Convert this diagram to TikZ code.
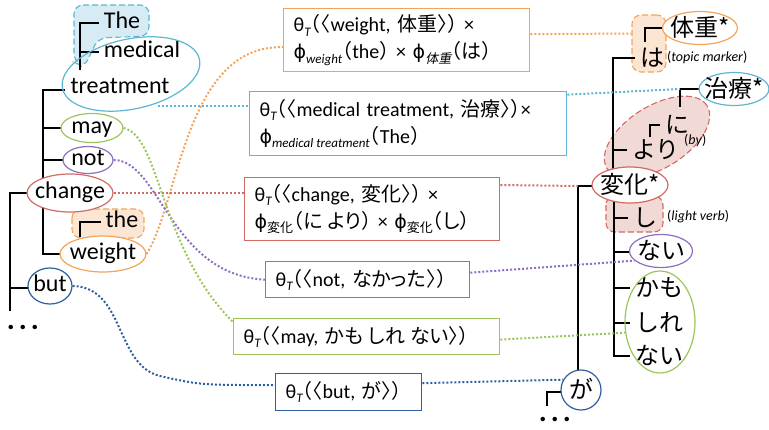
\documentclass[tikz,border=0pt]{standalone}
\usepackage{fontspec}
\setmainfont{Carlito}
\newfontfamily\jp{Noto Sans CJK JP}
\newfontfamily\jpp{Noto Sans CJK JP}[RawFeature=+palt]
\newfontfamily\jb{Noto Sans CJK JP}[RawFeature=+halt]
\newfontfamily\jpit{Noto Sans CJK JP}[FakeSlant=0.2,RawFeature=+palt]
\newfontfamily\dv{DejaVu Sans}
\usetikzlibrary{shapes.geometric}

\definecolor{corange}{HTML}{F2A55A}
\definecolor{cpeach}{HTML}{FBE5D3}
\definecolor{clblue}{HTML}{5DB6D3}
\definecolor{cpale}{HTML}{D6EBF3}
\definecolor{cred}{HTML}{D26A66}
\definecolor{cpink}{HTML}{F1DAD6}
\definecolor{cpurple}{HTML}{8E6FC0}
\definecolor{cgreen}{HTML}{9CC65B}
\definecolor{cdblue}{HTML}{2F5E9E}

\newcommand{\sbs}[1]{\raisebox{-0.45ex}{\fontsize{13}{13}\selectfont #1}}
\newcommand{\thT}{θ\sbs{\itshape T}}
\newcommand{\phis}{{\dv\fontsize{19}{27}\selectfont ϕ}}
\newcommand{\jlp}{{\jb （}}
\newcommand{\jrp}{{\jb ）}}
\newcommand{\jla}{{\jb 〈}}
\newcommand{\jra}{{\jb 〉}}

\begin{document}
\begin{tikzpicture}[x=1pt,y=-1pt,
  word/.style={font=\fontsize{24}{24}\selectfont, inner xsep=5pt, inner ysep=0pt, text height=16pt, text depth=5pt},
  jword/.style={font=\fontsize{24}{24}\selectfont\jp, inner xsep=5pt, inner ysep=0pt, text height=19pt, text depth=3pt},
  note/.style={font=\fontsize{14}{14}\selectfont, anchor=west, inner sep=0pt},
  bub/.style={ellipse, draw, line width=1.2pt, inner sep=0pt, fill=white},
  branch/.style={line width=2.6pt},
  blob/.style={draw, line width=1.1pt, dash pattern=on 6pt off 3pt, rounded corners=9pt},
  link/.style={line width=2pt, dash pattern=on 2pt off 2pt},
  box/.style={draw, line width=1.3pt, fill=white, anchor=north west, inner xsep=10pt, inner ysep=0pt, align=left, font=\fontsize{20}{27}\selectfont}]
\useasboundingbox (0,0) rectangle (769,429);

% dashed blobs
\draw[blob, clblue, fill=cpale] (74,5) -- (149,5) -- (149,36) -- (98,38) -- (84,68) -- (74,62) -- cycle;
\draw[blob, corange, fill=cpeach] (72,209) rectangle (144,238);
\node[blob, corange, fill=cpeach, rectangle, minimum width=34pt, minimum height=57pt] (ha-b) at (649,43.5) {};
\node[blob, cred, fill=cpink, ellipse, minimum width=118pt, minimum height=62pt, rotate=32] (niyori-b) at (657,137) {};
\draw[blob, cred, fill=cpink] (606,196) rectangle (663,232);

% left tree
\coordinate (L1) at (43,90);
\coordinate (L1e) at (43,182);
\coordinate (L2) at (10,193);
\coordinate (L2e) at (10,311);
\coordinate (L3) at (43,206);
\coordinate (B1) at (80,23);
\coordinate (B1e) at (80,70);
\coordinate (B2) at (80,222);
\coordinate (B2e) at (80,237);
% right tree
\coordinate (T1) at (613,58);
\coordinate (T1e) at (613,180);
\coordinate (T2) at (578,186);
\coordinate (T2e) at (578,374);
\coordinate (T3) at (614,196);
\coordinate (R1) at (645,42);
\coordinate (R2) at (650,137);
\coordinate (R3) at (680,107);
\coordinate (R4) at (547,406);

\node[word] (The) at (122,23) {The};
\node[word] (medical) at (142,52) {medical};
\node[word] (treatment) at (120,88) {treatment};
\node[word] (the) at (122,222) {the};
\node[jword] (ha) at (652,58) {は};
\node[jword] (ni) at (677,125) {に};
\node[jword] (yori) at (656,150) {より};
\node[jword] (shi) at (645,218) {し};
\node[jword] (kamo) at (659,288) {かも};
\node[jword] (shire) at (659,323) {しれ};
\node[jword] (nai2) at (659,356) {ない};

\draw[branch] (treatment.west |- L1) -- (L1) -- (L1e);
\draw[branch] (B1e) -- (B1) -- (The.west);
\draw[branch] (medical.west) -- (medical.west -| B1);
\draw[branch] (L2e) -- (L2) -- (70,193);
\draw[branch] (L2 |- 0,288) -- (40,288);
\draw[branch] (L3) |- (70,254);
\draw[branch] (B2e) -- (B2) -- (the.west);
\draw[branch] (L1 |- 0,128) -- (80,128);
\draw[branch] (L1 |- 0,160) -- (80,160);
\draw[branch] (ha.west) -- (T1) -- (T1e);
\draw[branch] (yori.west) -- (yori.west -| T1);
\draw[branch] (R1) |- (690,28);
\draw[branch] (R2) |- (ni.west);
\draw[branch] (R3) |- (720,89);
\draw[branch] (R4) |- (581,392);
\draw[branch] (T2e) -- (T2) -- (630,186);
\draw[branch] (T3) -- (T3 |- nai2.west) -- (nai2.west);
\draw[branch] (shi.west) -- (shi.west -| T3);
\draw[branch] (650,252) -- (650,252 -| T3);
\draw[branch] (kamo.west) -- (kamo.west -| T3);
\draw[branch] (shire.west) -- (shire.west -| T3);

% bubbles
\node[bub, draw=clblue, fill=none, minimum width=140pt, minimum height=70pt, rotate=12] (treat-e) at (131,74) {};
\node[bub, draw=cgreen, minimum width=62pt, minimum height=29pt] (may-e) at (92,128) {};
\node[bub, draw=cpurple, minimum width=50pt, minimum height=27pt] (not-e) at (88,160) {};
\node[bub, draw=cred, minimum width=86pt, minimum height=38pt] (change-e) at (70,193) {};
\node[bub, draw=corange, minimum width=86pt, minimum height=36pt] (weight-e) at (103,254) {};
\node[bub, draw=cdblue, minimum width=44pt, minimum height=36pt] (but-e) at (50,286) {};
\node[bub, draw=corange, minimum width=75pt, minimum height=33pt] (taiju-e) at (700,28) {};
\node[bub, draw=clblue, minimum width=70pt, minimum height=33pt] (chiryo-e) at (734,89) {};
\node[bub, draw=cred, minimum width=76pt, minimum height=36pt] (henka-e) at (630,185) {};
\node[bub, draw=cpurple, minimum width=63pt, minimum height=33pt] (nai-e) at (661,251) {};
\node[bub, draw=cgreen, fill=none, minimum width=70pt, minimum height=102pt] (kamo-e) at (660,322) {};
\node[bub, draw=cdblue, minimum width=40pt, minimum height=40pt] (ga-e) at (581,390) {};

% boxes
\node[box, draw=corange, text width=226pt, minimum height=63pt] (wbox) at (283,8)
  {\thT\jlp\jla weight, {\jpp 体重}\jra\jrp{} ×\\\phis\sbs{\itshape weight}\jlp the\jrp{} × \phis\sbs{\jpit 体重}\jlp{\jpp は}\jrp};
\node[box, draw=clblue, text width=297pt, minimum height=64pt] (tbox) at (249,91)
  {\thT\jlp\jla medical treatment, {\jpp 治療}\jra\jrp×\\\phis\sbs{\itshape medical\kern3pt treatment}\jlp The\jrp};
\node[box, draw=cred, text width=235pt, minimum height=63pt] (cbox) at (244,177)
  {\thT\jlp\jla change, {\jpp 変化}\jra\jrp{} ×\\\phis\sbs{\jpp 変化}\jlp{\jpp に\hspace{5pt}より}\jrp{} × \phis\sbs{\jpp 変化}\jlp{\jpp し}\jrp};
\node[box, draw=cpurple, text width=184pt, minimum height=36pt] (nbox) at (265,261)
  {\thT\jlp\jla not, {\jpp なかった}\jra\jrp};
\node[box, draw=cgreen, text width=246pt, minimum height=36pt] (mbox) at (233,318)
  {\thT\jlp\jla may, {\jpp かも\hspace{5pt}しれ\hspace{5pt}ない}\jra\jrp};
\node[box, draw=cdblue, text width=126pt, minimum height=37pt] (bbox) at (275,373)
  {\thT\jlp\jla but, {\jpp が}\jra\jrp};

% links
\coordinate (tr-out) at (158,106);
\draw[link, corange] (weight-e.east) .. controls (180,200) and (185,45) .. ([yshift=-7pt]wbox.west);
\draw[link, corange] ([yshift=6pt]wbox.east) -- ([yshift=10pt]ha-b.west);
\draw[link, clblue] (tr-out) -- (tr-out -| tbox.west);
\draw[link, clblue] ([yshift=29pt]tbox.east) -- (R3 |- chiryo-e.west);
\draw[link, cred] (change-e.east) -- (change-e.east -| cbox.west);
\draw[link, cred] (henka-e.west -| cbox.east) -- (T2);
\draw[link, cpurple] (not-e.east) .. controls (160,160) and (170,275) .. (nbox.west);
\draw[link, cpurple] ([yshift=7pt]nbox.east) -- (nai-e.200);
\draw[link, cgreen] (may-e.east) .. controls (160,135) and (160,250) .. ([yshift=-4pt]mbox.north west);
\draw[link, cgreen] ([yshift=-3pt]mbox.east) -- (kamo-e.197);
\draw[link, cdblue] (but-e.east) .. controls (125,287) and (115,365) .. (160,376) .. controls (200,385) .. ([yshift=7pt]bbox.west);
\draw[link, cdblue] ([yshift=9pt]bbox.east) -- (ga-e.150);

% words
\node[word] (may) at (92,128) {may};
\node[word] (not) at (88,160) {not};
\node[word] (change) at (70,193) {change};
\node[word] (weight) at (103,254) {weight};
\node[word] (but) at (50,286) {but};
\node[jword] (taiju) at (700,28) {体重*};
\node[jword] (chiryo) at (734,89) {治療*};
\node[jword] (henka) at (630,185) {変化*};
\node[jword] (nai) at (661,251) {ない};
\node[jword] (ga) at (581,390) {が};
\node[note] (topic) at (667,58) {(\textit{topic marker})};
\node[note] (by) at (684,141) {(\textit{by})};
\node[note] (light) at (667,217) {(\textit{light verb})};
\node[font=\bfseries\fontsize{30}{30}\selectfont, inner sep=0pt] (ldots) at (23,327) {.\kern4pt.\kern4pt.};
\node[font=\bfseries\fontsize{30}{30}\selectfont, inner sep=0pt] (rdots) at (555,419) {.\kern4pt.\kern4pt.};
\end{tikzpicture}
\end{document}
